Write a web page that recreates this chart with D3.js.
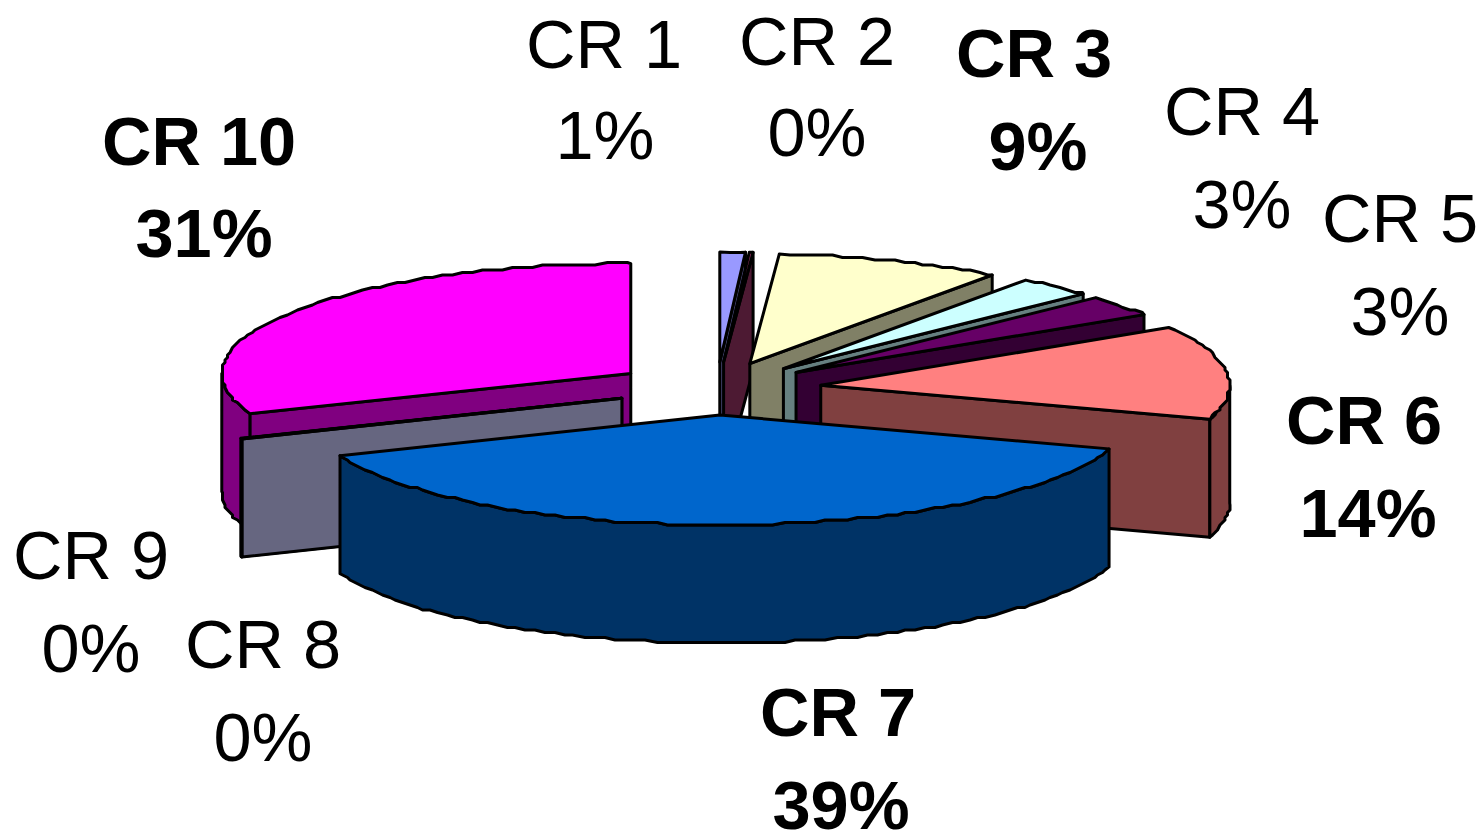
<!DOCTYPE html>
<html>
<head>
<meta charset="utf-8">
<script src="https://cdn.jsdelivr.net/npm/d3@7"></script>
<style>
html,body{margin:0;padding:0;background:#fff;overflow:hidden}
svg{display:block}
text{font-family:"Liberation Sans",Arial,sans-serif;fill:#000}
</style>
</head>
<body>
<svg id="chart" width="1482" height="835"></svg>
<script>
// Data
const categories = ["CR 1","CR 2","CR 3","CR 4","CR 5","CR 6","CR 7","CR 8","CR 9","CR 10"];
const shares     = [1.0, 0.15, 8.95, 3.0, 3.1, 13.8, 39.0, 0.05, 0.05, 30.95];
const topColors  = ["#9999FF","#993366","#FFFFCC","#CCFFFF","#660066","#FF8080","#0066CC","#CCCCFF","#000080","#FF00FF"];

// Layout (separate from data)
const W = 1482, H = 835;
const centre = {x: 716.5, y: 388.5};
const rx = 409, ry = 110, depth = 118, explodeX = 105, explodeY = 26.5;
const sliceNudgeX = [0,0,-3,-3,-4,0,0,3,3,1];
const fontSize = 68.5, lineGap = 92.5;
const labelAnchors = [[604,68],[817,65],[1034,77],[1242,135],[1400,242],[1364,444],[838,736],[263,668],[91,579],[199,165]];
const secondLineOffset = [[1,-2],[0,-2],[4,0],[0,0],[0,0],[4,0],[3,0],[0,0],[0,0],[5,-1]];

const svg = d3.select("#chart");
const sx = d3.scaleLinear().domain([-1,1]).range([-rx,rx]);
const sy = d3.scaleLinear().domain([-1,1]).range([-ry,ry]);
const pct = d3.format(".0f");
const total = d3.sum(shares);
const arcs = d3.pie().sort(null).value(d => d)(shares);
const TAU = Math.PI*2, STEP = Math.PI/120, GRID = 2.5;

const rows = arcs.map((a,i) => {
  const mid = (a.startAngle+a.endAngle)/2;
  const c = d3.rgb(topColors[i]);
  return {
    i, a0:a.startAngle, a1:a.endAngle,
    cx: centre.x + explodeX*Math.sin(mid) + sliceNudgeX[i],
    cy: centre.y - explodeY*Math.cos(mid),
    top: topColors[i],
    side: d3.rgb(c.r/2,c.g/2,c.b/2).formatHex()
  };
});

const rim = (r,t,z=0) => [r.cx+sx(Math.sin(t)), r.cy-sy(Math.cos(t))+z];
// the original's rims are slightly stepped: interior rim points snap to a small pixel grid
const rimPath = (r,t0,t1,z=0) => {
  const ts = d3.range(t0,t1,STEP); ts.push(t1);
  return ts.map((t,k) => {
    const p = rim(r,t,z);
    return (k===0 || k===ts.length-1) ? p : [Math.round(p[0]/GRID)*GRID, Math.round(p[1]/GRID)*GRID];
  });
};
const line = d3.line();
const style = sel => sel.attr("stroke","#000").attr("stroke-width",3).attr("stroke-linejoin","round");

// back to front; CR 9 sits behind CR 8
const final = rows.slice().sort((p,q)=> (p.cy-q.cy) || (q.i-p.i));

const g = svg.append("g");
final.forEach(r => {
  const group = g.append("g").attr("class","slice");
  const radial = t => {
    const p = rim(r,t), q = rim(r,t,depth);
    group.append("path").attr("d", line([[r.cx,r.cy],p,q,[r.cx,r.cy+depth]])+"Z").attr("fill",r.side).call(style);
  };
  if (r.a0 > Math.PI && r.a0 < TAU) radial(r.a0);
  if (r.a1 > 0 && r.a1 < Math.PI) radial(r.a1);
  const w0 = Math.max(r.a0, Math.PI/2), w1 = Math.min(r.a1, 3*Math.PI/2);
  if (w1 > w0) {
    const pts = rimPath(r,w0,w1).concat(rimPath(r,w0,w1,depth).reverse());
    group.append("path").attr("d", line(pts)+"Z").attr("fill",r.side).call(style);
  }
  const pts = [[r.cx,r.cy]].concat(rimPath(r,r.a0,r.a1));
  group.append("path").attr("d", line(pts)+"Z").attr("fill",r.top).call(style);
});

// Labels
const labels = svg.append("g").selectAll("g").data(categories).join("g")
  .attr("transform",(d,i)=>`translate(${labelAnchors[i][0]},${labelAnchors[i][1]})`)
  .attr("text-anchor","middle")
  .attr("font-size",fontSize)
  .attr("font-weight",(d,i)=> shares[i]/total>=0.085 ? "bold":"normal");
labels.append("text").text(d=>d);
labels.append("text")
  .attr("x",(d,i)=>secondLineOffset[i][0])
  .attr("y",(d,i)=>lineGap+secondLineOffset[i][1])
  .text((d,i)=>pct(shares[i]/total*100)+"%");
</script>
</body>
</html>
